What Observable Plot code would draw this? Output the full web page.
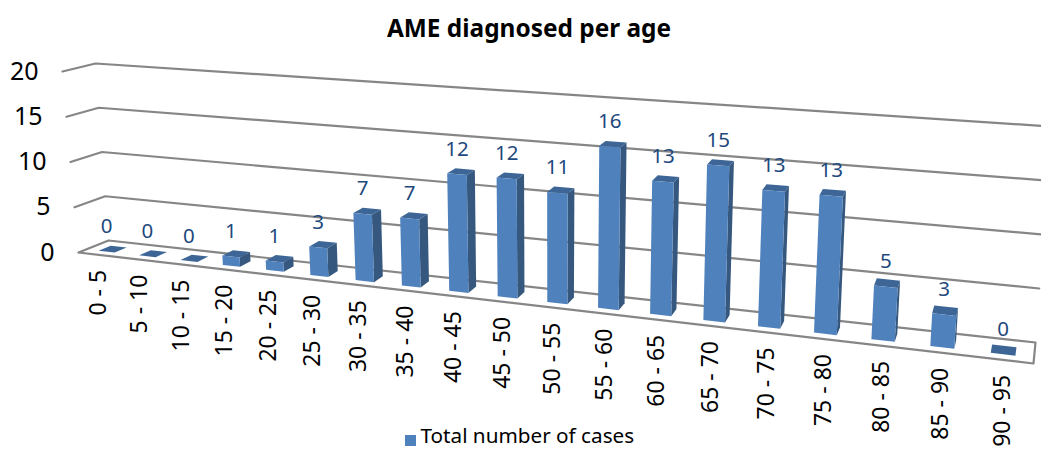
<!DOCTYPE html>
<html>
<head>
<meta charset="utf-8">
<script src="https://cdn.jsdelivr.net/npm/d3@7"></script>
<script src="https://cdn.jsdelivr.net/npm/@observablehq/plot@0.6"></script>
<style>
  html, body { margin: 0; padding: 0; background: #fff; overflow: hidden; }
  #title { width: 1041px; height: 48px; box-sizing: border-box; padding: 12px 0 0 17px; text-align: center;
           font: bold 24.4px "Noto Sans", sans-serif; line-height: 32px; color: #000; }
  svg { display: block; }
</style>
</head>
<body>
<div id="title">AME diagnosed per age</div>
<div id="chart"></div>
<script>
// Age bands and the number of cases in each
const ageBands = ["0 - 5","5 - 10","10 - 15","15 - 20","20 - 25","25 - 30","30 - 35","35 - 40","40 - 45","45 - 50",
                  "50 - 55","55 - 60","60 - 65","65 - 70","70 - 75","75 - 80","80 - 85","85 - 90","90 - 95"];
const cases = [0,0,0,1,1,3,7,7,12,12,11,16,13,15,13,13,5,3,0];
const valueTicks = [0,5,10,15,20];
const seriesName = "Total number of cases";

// Box used for the oblique view: screen position of its corners, by end of the
// category axis, then front/back, then floor/ceiling.
const box = {
  near: {front: {floor: [78, 252], top: [62, 71]},    back: {floor: [108, 240], top: [95, 63]}},
  far:  {front: {floor: [1033, 363], top: [1049, 139]}, back: {floor: [1035, 342], top: [1050, 126]}}
};
const foreshortening = 1.251;
const valueMax = 20;
const bandCount = ageBands.length;
const barStart = 0.3, barEnd = 0.7;      // along a category band
const depthFront = 0.27, depthBack = 0.68; // across the floor

const mix = (a, b, t) => [a[0] + (b[0] - a[0]) * t, a[1] + (b[1] - a[1]) * t];

// Category position u, depth d (0 front, 1 back), value v -> screen point
function project(u, d, v) {
  const end = (e) => {
    const h = v / valueMax;
    return mix(mix(e.front.floor, e.front.top, h), mix(e.back.floor, e.back.top, h), d);
  };
  const s = u / bandCount;
  const t = s / (s + foreshortening * (1 - s));
  return mix(end(box.near), end(box.far), t);
}

const polyline = (id, pts) => pts.map(([x, y]) => ({id, x, y}));

// Wall gridlines and the outlined floor
const gridRows = valueTicks.filter((v) => v > 0).flatMap((v) =>
  polyline("v" + v, [project(0, 0, v), project(0, 1, v), project(bandCount, 1, v)]));
const floorRows = polyline("floor", [
  project(0, 0, 0), project(0, 1, 0), project(bandCount, 1, 0), project(bandCount, 0, 0), project(0, 0, 0)
]);

// Three visible faces per bar
const faceColors = {front: "#4f81bd", side: "#36587f", top: "#3d6696"};
const faceRows = cases.flatMap((value, i) => {
  const a = i + barStart, b = i + barEnd, f = depthFront, k = depthBack;
  const faces = [];
  faces.push(...polyline(`${i}-top`, [project(a, f, value), project(b, f, value), project(b, k, value), project(a, k, value)]).map((r) => ({...r, face: "top"})));
  if (value > 0) {
    faces.push(...polyline(`${i}-side`, [project(b, f, 0), project(b, k, 0), project(b, k, value), project(b, f, value)]).map((r) => ({...r, face: "side"})));
    faces.push(...polyline(`${i}-front`, [project(a, f, 0), project(b, f, 0), project(b, f, value), project(a, f, value)]).map((r) => ({...r, face: "front"})));
  }
  return faces;
});

const valueLabels = cases.map((value, i) => {
  const [x, y] = project(i + 0.5, depthFront, value);
  return {x, y, value};
});
const tickLabels = valueTicks.map((value) => {
  const [x, y] = project(0, 0, value);
  return {x, y, value};
});
const bandLabels = ageBands.map((band, i) => {
  const [x, y] = project(i + 0.5, 0, 0);
  return {x, y, band};
});

const font = "Noto Sans";
const chart = Plot.plot({
  width: 1041,
  height: 402,
  margin: 0,
  x: {type: "linear", domain: [0, 1041], range: [0, 1041], axis: null},
  y: {type: "linear", domain: [48, 450], range: [0, 402], axis: null},
  marks: [
    Plot.line(gridRows, {x: "x", y: "y", z: "id", stroke: "#868686", strokeWidth: 2.2, curve: "linear"}),
    Plot.line(floorRows, {x: "x", y: "y", z: "id", stroke: "#868686", strokeWidth: 2.2, fill: "#fff", curve: "linear"}),
    Plot.line(faceRows, {x: "x", y: "y", z: "id", stroke: "none", fill: (d) => faceColors[d.face], curve: "linear"}),
    Plot.text(valueLabels, {x: "x", y: "y", text: "value", dy: -25, fill: "#1f497d", fontFamily: font, fontSize: 20.5}),
    Plot.text(tickLabels, {x: "x", y: "y", text: "value", dx: -24, textAnchor: "end", fill: "#000", fontFamily: font, fontSize: 25}),
    Plot.text(bandLabels, {x: "x", y: "y", text: "band", dy: 15, rotate: -90, textAnchor: "end", fill: "#000", fontFamily: font, fontSize: 23}),
    // Series key
    Plot.dot([{x: 410, y: 440}], {x: "x", y: "y", symbol: "square", r: 6.2, fill: faceColors.front}),
    Plot.text([{x: 420, y: 436, label: seriesName}], {x: "x", y: "y", text: "label", textAnchor: "start", fill: "#000", fontFamily: font, fontSize: 20.7})
  ]
});
document.getElementById("chart").appendChild(chart);
</script>
</body>
</html>
